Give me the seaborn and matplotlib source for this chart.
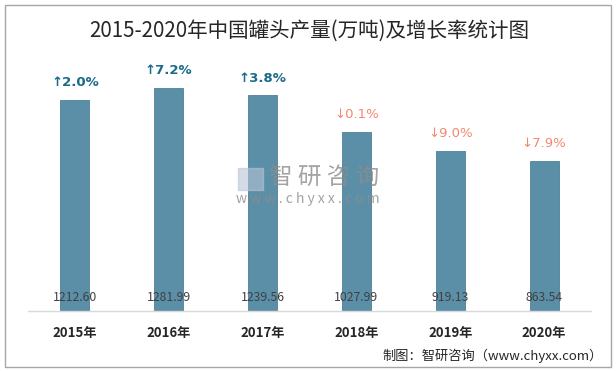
import matplotlib
matplotlib.use("Agg")
import matplotlib.pyplot as plt
import matplotlib.patches as patches
import seaborn as sns
import pandas as pd

# 数据
years = ["2015年", "2016年", "2017年", "2018年", "2019年", "2020年"]
output = [1212.60, 1281.99, 1239.56, 1027.99, 919.13, 863.54]
growth = [2.0, 7.2, 3.8, -0.1, -9.0, -7.9]

df = pd.DataFrame({"year": years, "output": output})

sns.set_theme(style="white")
plt.rcParams["font.family"] = ["Noto Sans CJK SC", "DejaVu Sans"]

W, H = 616, 371
fig = plt.figure(figsize=(W / 100, H / 100), dpi=100)
ax = fig.add_axes([28 / W, 1 - 311 / H, 563 / W, 271 / H])

sns.barplot(data=df, x="year", y="output", color="#5b8fa8", saturation=1,
            width=0.31, edgecolor="#4f8099", linewidth=0.6, ax=ax)

ax.set_ylim(0, 1558)
ax.set_xlim(-0.5, 5.5)
ax.set_xlabel("")
ax.set_ylabel("")
ax.set_yticks([])
for s in ["top", "right", "left"]:
    ax.spines[s].set_visible(False)
ax.spines["bottom"].set_color("#d9d9d9")
ax.spines["bottom"].set_linewidth(1)
ax.tick_params(axis="x", length=0, pad=11)
for lbl in ax.get_xticklabels():
    lbl.set_fontweight("bold")
    lbl.set_fontsize(9.5)
    lbl.set_color("#262626")

# 数值标签（柱内底部）
for i, v in enumerate(output):
    ax.annotate(f"{v:.2f}", (i, 0), xytext=(0, 10), textcoords="offset points",
                ha="center", va="center", fontsize=8.8, color="#404040")

# 增长率标签
for i, (v, g) in enumerate(zip(output, growth)):
    if g >= 0:
        txt, col, fw = f"↑{g:.1f}%", "#1b6a8a", "bold"
    else:
        txt, col, fw = f"↓{abs(g):.1f}%", "#f4876f", "normal"
    ax.annotate(txt, (i, v), xytext=(0, 12.5), textcoords="offset points",
                ha="center", va="center", fontsize=9.5, color=col, fontweight=fw,
                family=["DejaVu Sans", "Noto Sans CJK SC"])

# 水印
fig.text(324 / W, 1 - 178 / H, "智 研 咨 询", ha="center", va="center",
         fontsize=17, color="#8c8c8c", alpha=0.8)
fig.text(308 / W, 1 - 199 / H, "w w w . c h y x x . c o m", ha="center", va="center",
         fontsize=10, color="#8c8c8c", alpha=0.8)
fig.patches.append(patches.Rectangle((238 / W, 1 - 190 / H), 25 / W, 22 / H,
                                     transform=fig.transFigure, color="#b8c4d6",
                                     alpha=0.6, zorder=5))

# 标题与来源
fig.text(309 / W, 1 - 31 / H, "2015-2020年中国罐头产量(万吨)及增长率统计图",
         ha="center", va="center", fontsize=14.8, color="#262626")
fig.text(603 / W, 1 - 356 / H, "制图：智研咨询（www.chyxx.com）",
         ha="right", va="center", fontsize=9.5, color="#262626")

# 外框
fig.patches.append(patches.Rectangle((4.5 / W, 4.5 / H), 606 / W, 362 / H,
                                     transform=fig.transFigure, fill=False,
                                     edgecolor="#a6a6a6", linewidth=1))

fig.savefig("out.png", dpi=100)
